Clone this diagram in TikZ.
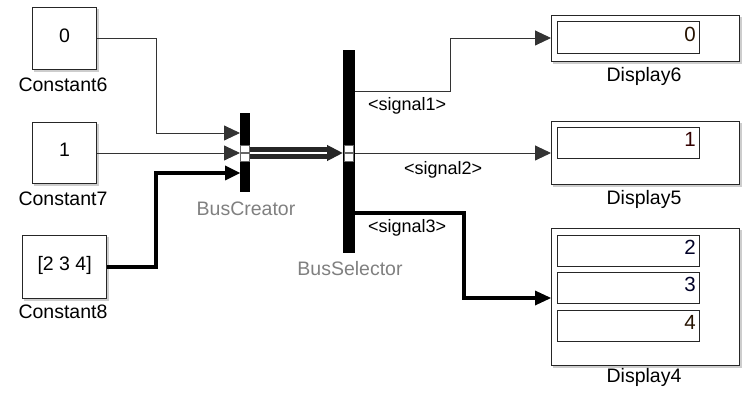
\documentclass[tikz,border=0pt]{standalone}
\usepackage{fontspec}
\setmainfont{Liberation Sans}
\usetikzlibrary{arrows.meta}
\definecolor{lblgray}{RGB}{128,128,128}
\definecolor{shadowgray}{RGB}{205,205,205}
\tikzset{
  blk/.style={draw=black!85, line width=1.3pt, fill=white, inner sep=0pt, anchor=north west},
  lbl/.style={inner sep=0pt, font=\fontsize{19.5}{21}\selectfont, text height=0.716em, text depth=0pt},
  slbl/.style={lbl, font=\fontsize{18}{20}\selectfont},
  vlbl/.style={lbl, font=\fontsize{20.5}{22}\selectfont},
  glbl/.style={lbl, text=lblgray},
  bar/.style={fill=black, draw=none, inner sep=0pt},
  sig/.style={draw=black!80, line width=0.9pt, -{Triangle[length=16pt,width=15pt]}},
  thicksigline/.style={draw=black, line width=3.4pt},
  bus/.style={draw=black!85, line width=5pt, double=white, double distance=1.6pt, -{Triangle[length=16pt,width=15pt]}},
  port/.style={fill=white, draw=black!60, line width=0.6pt, minimum width=9pt, minimum height=16pt, inner sep=0pt}
}
\begin{document}
\begin{tikzpicture}[x=1pt,y=-1pt]
\useasboundingbox (0,0) rectangle (744,398);
% shadows
\fill[shadowgray] (34,9) rectangle (99,72);
\fill[shadowgray] (34,124) rectangle (99,186);
\fill[shadowgray] (24,237) rectangle (109,301);
\fill[shadowgray] (553,17) rectangle (742,64);
\fill[shadowgray] (553,123) rectangle (742,187);
\fill[shadowgray] (553,230) rectangle (742,368);
% constants
\node[blk, minimum width=64pt, minimum height=62pt] (c6) at (32,7) {};
\node[lbl] at (c6.center) {0};
\node[blk, minimum width=64pt, minimum height=61pt] (c7) at (32,122) {};
\node[lbl] at (c7.center) {1};
\node[blk, minimum width=84pt, minimum height=63pt] (c8) at (22,235) {};
\node[lbl] at (c8.center) {[2 3 4]};
\node[lbl] (lc6) at (63,87.5) {Constant6};
\node[lbl] (lc7) at (63,201.5) {Constant7};
\node[lbl] (lc8) at (63,315) {Constant8};
% bus creator
\node[bar, minimum width=10pt, minimum height=79pt, anchor=north west] (bc) at (240,113) {};
\node[glbl] (lbc) at (246,211.5) {BusCreator};
% bus selector
\node[bar, minimum width=12pt, minimum height=203pt, anchor=north west] (bs) at (343,50) {};
\node[glbl] (lbs) at (350,272) {BusSelector};
\coordinate (bc1) at (240,133);
\coordinate (bc2) at (240,153);
\coordinate (bc3) at (240,173);
\coordinate (bs1) at (355,91);
\coordinate (bs2) at (355,153);
\coordinate (bs3) at (355,213);
% displays
\node[blk, minimum width=188pt, minimum height=46pt] (d6) at (551,15) {};
\node[blk, line width=1pt, minimum width=142pt, minimum height=32pt] (d6a) at (557,21) {};
\node[vlbl, anchor=east, text=black!85!orange] at ([xshift=-4pt]d6a.east) {0};
\node[lbl] (ld6) at (644,78) {Display6};
\node[blk, minimum width=188pt, minimum height=63pt] (d5) at (551,121) {};
\node[blk, line width=1pt, minimum width=142pt, minimum height=31pt] (d5a) at (557,127) {};
\node[vlbl, anchor=east, text=black!80!red] at ([xshift=-4pt]d5a.east) {1};
\node[lbl] (ld5) at (644,201) {Display5};
\node[blk, minimum width=188pt, minimum height=137pt] (d4) at (551,228) {};
\node[blk, line width=1pt, minimum width=142pt, minimum height=31pt] (d4a) at (557,235) {};
\node[blk, line width=1pt, minimum width=142pt, minimum height=31pt] (d4b) at (557,272) {};
\node[blk, line width=1pt, minimum width=142pt, minimum height=31pt] (d4c) at (557,310) {};
\node[vlbl, anchor=east, text=black!85!blue] at ([xshift=-4pt]d4a.east) {2};
\node[vlbl, anchor=east, text=black!85!blue] at ([xshift=-4pt]d4b.east) {3};
\node[vlbl, anchor=east, text=black!85!orange] at ([xshift=-4pt]d4c.east) {4};
\node[lbl] (ld4) at (644,379) {Display4};
\coordinate (d6in) at (551,38);
\coordinate (d5in) at (551,153);
\coordinate (d4in) at (551,298);
% connectors in
\draw[sig] (c6.east) -| (156,133) -- (bc1);
\draw[sig] (c7.east |- bc2) -- (bc2);
\draw[thicksigline] (c8.east) -| (156,173) -- (226,173);
\fill (225,165.5) -- (240,173) -- (225,180.5) -- cycle;
% bus
\draw[bus] (bc2 -| bc.east) -- (bs.west |- bc2);
% outputs
\draw[sig] (bs1) -| (450,38) -- (d6in);
\draw[sig] (bs2) -- (d5in);
\draw[thicksigline] (bs3) -| (464,298) -- (537,298);
\fill (535,290.5) -- (551,298) -- (535,305.5) -- cycle;
\node[slbl, anchor=west] (s1) at (368,106.5) {<signal1>};
\node[slbl, anchor=west] (s2) at (404,171) {<signal2>};
\node[slbl, anchor=west] (s3) at (368,229) {<signal3>};
% ports
\node[port] at (245,153) {};
\draw[black!60, line width=1.2pt] (240.5,153) -- (249.5,153);
\node[port] at (349,153) {};
\draw[black!60, line width=1.2pt] (344.5,153) -- (353.5,153);
\end{tikzpicture}
\end{document}
